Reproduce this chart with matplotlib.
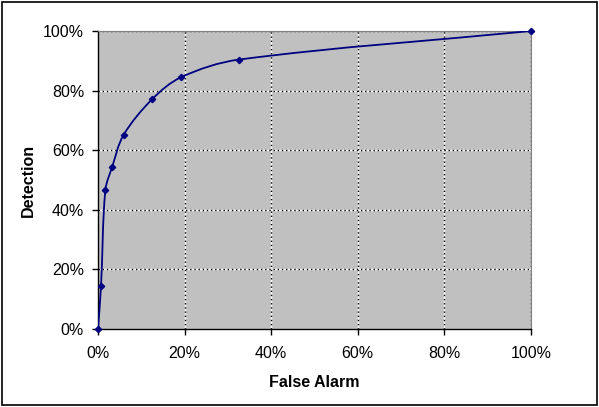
import matplotlib.pyplot as plt
import numpy as np
from matplotlib.path import Path
from matplotlib.patches import PathPatch, Rectangle
from matplotlib.ticker import PercentFormatter

plt.rcParams['font.family'] = ['Liberation Sans', 'DejaVu Sans']

false_alarm = [0.0, 0.7, 1.7, 3.3, 5.9, 12.5, 19.2, 32.5, 100.0]
detection = [0.0, 14.5, 46.6, 54.5, 65.1, 77.1, 84.5, 90.4, 100.0]
ticks = [0, 20, 40, 60, 80, 100]

NAVY = '#000080'


def smooth_path(xs, ys, sx=4.33, sy=2.98):
    # smoothed line drawn as cubic Bezier segments through every point,
    # tangents worked out in (roughly) screen units so the curve does not kink
    pts = np.column_stack([xs, ys]) * [sx, sy]
    n = len(pts)
    tang = []
    for i in range(n):
        a = pts[i - 1] if i > 0 else pts[i]
        b = pts[i + 1] if i < n - 1 else pts[i]
        d = b - a
        tang.append(d / np.linalg.norm(d))
    verts = [pts[0]]
    codes = [Path.MOVETO]
    for i in range(n - 1):
        L = np.linalg.norm(pts[i + 1] - pts[i]) / 3
        verts += [pts[i] + tang[i] * L, pts[i + 1] - tang[i + 1] * L, pts[i + 1]]
        codes += [Path.CURVE4] * 3
    verts = np.array(verts) / [sx, sy]
    return Path(verts, codes)


fig = plt.figure(figsize=(5.99, 4.07), dpi=100)
fig.patches.append(Rectangle((0.003, 0.004), 0.994, 0.991, transform=fig.transFigure,
                             fill=False, edgecolor='black', linewidth=1.2))

ax = fig.add_axes([0.1636, 0.1916, 0.7229, 0.7322])
ax.set_facecolor('#c0c0c0')

ax.add_patch(PathPatch(smooth_path(false_alarm, detection), fill=False,
                       edgecolor=NAVY, linewidth=1.3, zorder=3))
ax.plot(false_alarm, detection, linestyle='none', marker='D', markersize=3.2,
        color=NAVY, zorder=4, clip_on=False)

ax.set_xlim(0, 100)
ax.set_ylim(0, 100)
ax.set_xticks(ticks)
ax.set_yticks(ticks)
ax.xaxis.set_major_formatter(PercentFormatter(decimals=0))
ax.yaxis.set_major_formatter(PercentFormatter(decimals=0))

for t in ticks[1:-1]:
    ax.axvline(t, color='white', linewidth=1.0, zorder=1)
    ax.axvline(t, color='black', linewidth=1.0, linestyle=(0, (1, 2)), zorder=2)
    ax.axhline(t, color='white', linewidth=1.0, zorder=1)
    ax.axhline(t, color='black', linewidth=1.0, linestyle=(0, (1, 2)), zorder=2)
ax.axhline(100, color='black', linewidth=1.0, linestyle=(0, (1, 2)), zorder=2)
ax.axvline(100, color='black', linewidth=1.0, linestyle=(0, (1, 2)), zorder=2)

for s in ['top', 'right']:
    ax.spines[s].set_color('#808080')
for s in ['left', 'bottom']:
    ax.spines[s].set_color('black')
    ax.spines[s].set_linewidth(1.0)

ax.tick_params(direction='out', length=4, width=1, labelsize=11.5, pad=6)
ax.tick_params(axis='x', pad=8)

ax.set_xlabel('False Alarm', fontsize=11.5, fontweight='bold', labelpad=10)
ax.set_ylabel('Detection', fontsize=11.5, fontweight='bold', labelpad=5)

fig.savefig('out.png', dpi=100)
